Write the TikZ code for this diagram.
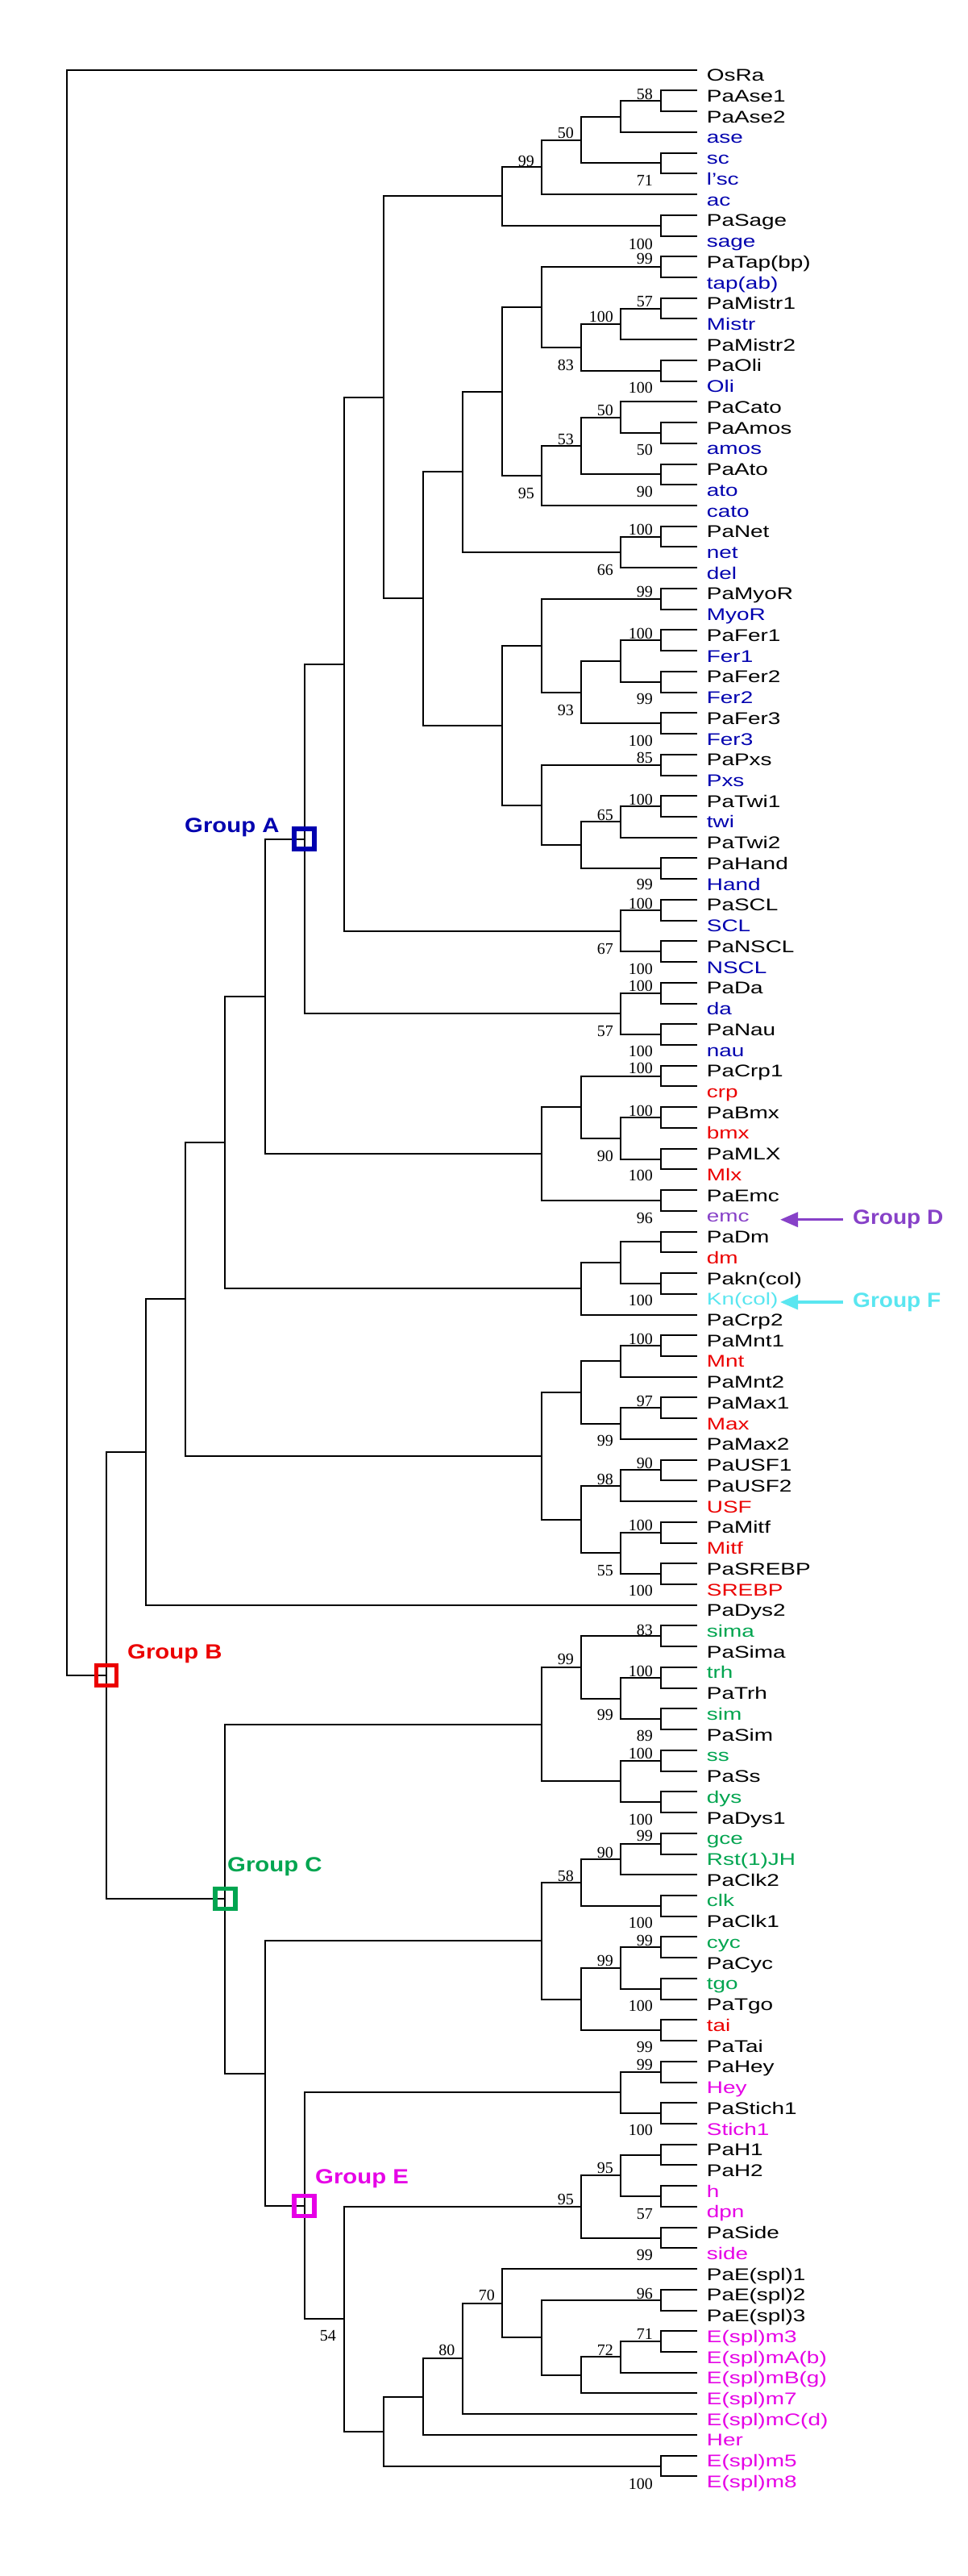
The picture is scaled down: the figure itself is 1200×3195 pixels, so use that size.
\documentclass[tikz,border=0pt]{standalone}
\usepackage{fontspec}
\usepackage{graphicx}
\setmainfont{Liberation Serif}
\newfontfamily\lsans{Liberation Sans}
\usetikzlibrary{calc,arrows.meta}
\definecolor{blueA}{RGB}{0,0,175}
\definecolor{redB}{RGB}{235,0,0}
\definecolor{greenC}{RGB}{0,165,80}
\definecolor{purpD}{RGB}{135,65,200}
\definecolor{cyanF}{RGB}{90,230,240}
\definecolor{magE}{RGB}{230,0,230}
\tikzset{
  br/.style={line width=2pt, line join=miter, black},
  leaf/.style={font=\lsans\fontsize{21}{21}\selectfont, inner sep=0pt, anchor=base west},
  bs/.style={font=\fontsize{20}{20}\selectfont, inner sep=0pt, anchor=east},
  grp/.style={font=\lsans\bfseries\fontsize{25.5}{25.5}\selectfont, inner sep=0pt, anchor=base west},
  gbox/.style={draw, rectangle, line width=5.5pt, minimum size=25pt, inner sep=0pt},
  garrow/.style={line width=3.5pt, -{Triangle[length=22pt,width=18pt]}},
}
\newcommand\wide[1]{\scalebox{1.33}[1]{#1}}
\newcommand\leafnode[3]{%
  \coordinate (t#1) at (15.93,#1);
  \node[leaf, text=#2] (l#1) at ([xshift=11.5pt,yshift=-14pt]t#1) {\wide{#3}};
}
\newcommand\treenode[4]{%
  \path ($(#3)!0.5!(#4)$) coordinate (tmp);
  \coordinate (#1) at (L#2 |- tmp);
  \draw[br] (#1) |- (#3) (#1) |- (#4);
}
\begin{document}
\begin{tikzpicture}[x=1pt,y=-1pt]
\fill[white] (0,0) rectangle (1200,3195);
\useasboundingbox (0,0) rectangle (1200,3195);
\begin{scope}[shift={(83pt,-60.97pt)}, x=49.1pt, y=-25.73pt]
\foreach \k in {0,...,16} \coordinate (L\k) at (\k,0);
\leafnode{1}{black}{OsRa}
\leafnode{2}{black}{PaAse1}
\leafnode{3}{black}{PaAse2}
\leafnode{4}{blueA}{ase}
\leafnode{5}{blueA}{sc}
\leafnode{6}{blueA}{l’sc}
\leafnode{7}{blueA}{ac}
\leafnode{8}{black}{PaSage}
\leafnode{9}{blueA}{sage}
\leafnode{10}{black}{PaTap(bp)}
\leafnode{11}{blueA}{tap(ab)}
\leafnode{12}{black}{PaMistr1}
\leafnode{13}{blueA}{Mistr}
\leafnode{14}{black}{PaMistr2}
\leafnode{15}{black}{PaOli}
\leafnode{16}{blueA}{Oli}
\leafnode{17}{black}{PaCato}
\leafnode{18}{black}{PaAmos}
\leafnode{19}{blueA}{amos}
\leafnode{20}{black}{PaAto}
\leafnode{21}{blueA}{ato}
\leafnode{22}{blueA}{cato}
\leafnode{23}{black}{PaNet}
\leafnode{24}{blueA}{net}
\leafnode{25}{blueA}{del}
\leafnode{26}{black}{PaMyoR}
\leafnode{27}{blueA}{MyoR}
\leafnode{28}{black}{PaFer1}
\leafnode{29}{blueA}{Fer1}
\leafnode{30}{black}{PaFer2}
\leafnode{31}{blueA}{Fer2}
\leafnode{32}{black}{PaFer3}
\leafnode{33}{blueA}{Fer3}
\leafnode{34}{black}{PaPxs}
\leafnode{35}{blueA}{Pxs}
\leafnode{36}{black}{PaTwi1}
\leafnode{37}{blueA}{twi}
\leafnode{38}{black}{PaTwi2}
\leafnode{39}{black}{PaHand}
\leafnode{40}{blueA}{Hand}
\leafnode{41}{black}{PaSCL}
\leafnode{42}{blueA}{SCL}
\leafnode{43}{black}{PaNSCL}
\leafnode{44}{blueA}{NSCL}
\leafnode{45}{black}{PaDa}
\leafnode{46}{blueA}{da}
\leafnode{47}{black}{PaNau}
\leafnode{48}{blueA}{nau}
\leafnode{49}{black}{PaCrp1}
\leafnode{50}{redB}{crp}
\leafnode{51}{black}{PaBmx}
\leafnode{52}{redB}{bmx}
\leafnode{53}{black}{PaMLX}
\leafnode{54}{redB}{Mlx}
\leafnode{55}{black}{PaEmc}
\leafnode{56}{purpD}{emc}
\leafnode{57}{black}{PaDm}
\leafnode{58}{redB}{dm}
\leafnode{59}{black}{Pakn(col)}
\leafnode{60}{cyanF}{Kn(col)}
\leafnode{61}{black}{PaCrp2}
\leafnode{62}{black}{PaMnt1}
\leafnode{63}{redB}{Mnt}
\leafnode{64}{black}{PaMnt2}
\leafnode{65}{black}{PaMax1}
\leafnode{66}{redB}{Max}
\leafnode{67}{black}{PaMax2}
\leafnode{68}{black}{PaUSF1}
\leafnode{69}{black}{PaUSF2}
\leafnode{70}{redB}{USF}
\leafnode{71}{black}{PaMitf}
\leafnode{72}{redB}{Mitf}
\leafnode{73}{black}{PaSREBP}
\leafnode{74}{redB}{SREBP}
\leafnode{75}{black}{PaDys2}
\leafnode{76}{greenC}{sima}
\leafnode{77}{black}{PaSima}
\leafnode{78}{greenC}{trh}
\leafnode{79}{black}{PaTrh}
\leafnode{80}{greenC}{sim}
\leafnode{81}{black}{PaSim}
\leafnode{82}{greenC}{ss}
\leafnode{83}{black}{PaSs}
\leafnode{84}{greenC}{dys}
\leafnode{85}{black}{PaDys1}
\leafnode{86}{greenC}{gce}
\leafnode{87}{greenC}{Rst(1)JH}
\leafnode{88}{black}{PaClk2}
\leafnode{89}{greenC}{clk}
\leafnode{90}{black}{PaClk1}
\leafnode{91}{greenC}{cyc}
\leafnode{92}{black}{PaCyc}
\leafnode{93}{greenC}{tgo}
\leafnode{94}{black}{PaTgo}
\leafnode{95}{redB}{tai}
\leafnode{96}{black}{PaTai}
\leafnode{97}{black}{PaHey}
\leafnode{98}{magE}{Hey}
\leafnode{99}{black}{PaStich1}
\leafnode{100}{magE}{Stich1}
\leafnode{101}{black}{PaH1}
\leafnode{102}{black}{PaH2}
\leafnode{103}{magE}{h}
\leafnode{104}{magE}{dpn}
\leafnode{105}{black}{PaSide}
\leafnode{106}{magE}{side}
\leafnode{107}{black}{PaE(spl)1}
\leafnode{108}{black}{PaE(spl)2}
\leafnode{109}{black}{PaE(spl)3}
\leafnode{110}{magE}{E(spl)m3}
\leafnode{111}{magE}{E(spl)mA(b)}
\leafnode{112}{magE}{E(spl)mB(g)}
\leafnode{113}{magE}{E(spl)m7}
\leafnode{114}{magE}{E(spl)mC(d)}
\leafnode{115}{magE}{Her}
\leafnode{116}{magE}{E(spl)m5}
\leafnode{117}{magE}{E(spl)m8}
% tree
\treenode{a1}{15}{t2}{t3}
\treenode{a2}{14}{a1}{t4}
\treenode{a3}{15}{t5}{t6}
\treenode{a4}{13}{a2}{a3}
\treenode{a5}{12}{a4}{t7}
\treenode{a6}{15}{t8}{t9}
\treenode{a7}{11}{a5}{a6}
\treenode{b1}{15}{t10}{t11}
\treenode{b2}{15}{t12}{t13}
\treenode{b3}{14}{b2}{t14}
\treenode{b4}{15}{t15}{t16}
\treenode{b5}{13}{b3}{b4}
\treenode{b6}{12}{b1}{b5}
\treenode{b7}{15}{t18}{t19}
\treenode{b8}{14}{t17}{b7}
\treenode{b9}{15}{t20}{t21}
\treenode{b10}{13}{b8}{b9}
\treenode{b11}{12}{b10}{t22}
\treenode{b12}{11}{b6}{b11}
\treenode{b13}{15}{t23}{t24}
\treenode{b14}{14}{b13}{t25}
\treenode{b15}{10}{b12}{b14}
\treenode{c1}{15}{t26}{t27}
\treenode{c2}{15}{t28}{t29}
\treenode{c3}{15}{t30}{t31}
\treenode{c4}{14}{c2}{c3}
\treenode{c5}{15}{t32}{t33}
\treenode{c6}{13}{c4}{c5}
\treenode{c7}{12}{c1}{c6}
\treenode{c8}{15}{t34}{t35}
\treenode{c9}{15}{t36}{t37}
\treenode{c10}{14}{c9}{t38}
\treenode{c11}{15}{t39}{t40}
\treenode{c12}{13}{c10}{c11}
\treenode{c13}{12}{c8}{c12}
\treenode{c14}{11}{c7}{c13}
\treenode{c15}{9}{b15}{c14}
\treenode{c16}{8}{a7}{c15}
\treenode{d1}{15}{t41}{t42}
\treenode{d2}{15}{t43}{t44}
\treenode{d3}{14}{d1}{d2}
\treenode{d4}{7}{c16}{d3}
\treenode{d5}{15}{t45}{t46}
\treenode{d6}{15}{t47}{t48}
\treenode{d7}{14}{d5}{d6}
\treenode{gA}{6}{d4}{d7}
\treenode{e1}{15}{t49}{t50}
\treenode{e2}{15}{t51}{t52}
\treenode{e3}{15}{t53}{t54}
\treenode{e4}{14}{e2}{e3}
\treenode{e5}{13}{e1}{e4}
\treenode{e6}{15}{t55}{t56}
\treenode{e7}{12}{e5}{e6}
\treenode{e8}{5}{gA}{e7}
\treenode{f1}{15}{t57}{t58}
\treenode{f2}{15}{t59}{t60}
\treenode{f3}{14}{f1}{f2}
\treenode{f4}{13}{f3}{t61}
\treenode{f5}{4}{e8}{f4}
\treenode{g1}{15}{t62}{t63}
\treenode{g2}{14}{g1}{t64}
\treenode{g3}{15}{t65}{t66}
\treenode{g4}{14}{g3}{t67}
\treenode{g5}{13}{g2}{g4}
\treenode{g6}{15}{t68}{t69}
\treenode{g7}{14}{g6}{t70}
\treenode{g8}{15}{t71}{t72}
\treenode{g9}{15}{t73}{t74}
\treenode{g10}{14}{g8}{g9}
\treenode{g11}{13}{g7}{g10}
\treenode{g12}{12}{g5}{g11}
\treenode{g13}{3}{f5}{g12}
\treenode{g14}{2}{g13}{t75}
\treenode{h1}{15}{t76}{t77}
\treenode{h2}{15}{t78}{t79}
\treenode{h3}{15}{t80}{t81}
\treenode{h4}{14}{h2}{h3}
\treenode{h5}{13}{h1}{h4}
\treenode{h6}{15}{t82}{t83}
\treenode{h7}{15}{t84}{t85}
\treenode{h8}{14}{h6}{h7}
\treenode{h9}{12}{h5}{h8}
\treenode{i1}{15}{t86}{t87}
\treenode{i2}{14}{i1}{t88}
\treenode{i3}{15}{t89}{t90}
\treenode{i4}{13}{i2}{i3}
\treenode{i5}{15}{t91}{t92}
\treenode{i6}{15}{t93}{t94}
\treenode{i7}{14}{i5}{i6}
\treenode{i8}{15}{t95}{t96}
\treenode{i9}{13}{i7}{i8}
\treenode{i10}{12}{i4}{i9}
\treenode{j1}{15}{t97}{t98}
\treenode{j2}{15}{t99}{t100}
\treenode{j3}{14}{j1}{j2}
\treenode{j4}{15}{t101}{t102}
\treenode{j5}{15}{t103}{t104}
\treenode{j6}{14}{j4}{j5}
\treenode{j7}{15}{t105}{t106}
\treenode{j8}{13}{j6}{j7}
\treenode{k1}{15}{t108}{t109}
\treenode{k2}{15}{t110}{t111}
\treenode{k3}{14}{k2}{t112}
\treenode{k4}{13}{k3}{t113}
\treenode{k5}{12}{k1}{k4}
\treenode{k6}{11}{t107}{k5}
\treenode{k7}{10}{k6}{t114}
\treenode{k8}{9}{k7}{t115}
\treenode{k9}{15}{t116}{t117}
\treenode{k10}{8}{k8}{k9}
\treenode{k11}{7}{j8}{k10}
\treenode{gE}{6}{j3}{k11}
\treenode{m1}{5}{i10}{gE}
\treenode{gC}{4}{h9}{m1}
\treenode{gB}{1}{g14}{gC}
\treenode{root}{0}{t1}{gB}
% group boxes
\node[gbox, draw=blueA] (boxA) at (gA) {};
\node[gbox, draw=redB] (boxB) at (gB) {};
\node[gbox, draw=greenC] (boxC) at (gC) {};
\node[gbox, draw=magE] (boxE) at (gE) {};
\end{scope}
% bootstrap values
\node[bs] (bs1) at (810,117.3) {58};
\node[bs] (bs2) at (712,165) {50};
\node[bs] (bs3) at (663,200) {99};
\node[bs] (bs4) at (810,224) {71};
\node[bs] (bs5) at (810,302.7) {100};
\node[bs] (bs6) at (810,321) {99};
\node[bs] (bs7) at (810,374) {57};
\node[bs] (bs8) at (761,392.7) {100};
\node[bs] (bs9) at (712,453.3) {83};
\node[bs] (bs10) at (810,481) {100};
\node[bs] (bs11) at (761,509) {50};
\node[bs] (bs12) at (712,545) {53};
\node[bs] (bs13) at (810,558.3) {50};
\node[bs] (bs14) at (663,611.7) {95};
\node[bs] (bs15) at (810,610) {90};
\node[bs] (bs16) at (810,656.7) {100};
\node[bs] (bs17) at (761,706.7) {66};
\node[bs] (bs18) at (810,734) {99};
\node[bs] (bs19) at (810,786) {100};
\node[bs] (bs20) at (810,866.7) {99};
\node[bs] (bs21) at (712,880.7) {93};
\node[bs] (bs22) at (810,919) {100};
\node[bs] (bs23) at (810,940) {85};
\node[bs] (bs24) at (810,991.7) {100};
\node[bs] (bs25) at (761,1010.7) {65};
\node[bs] (bs26) at (810,1096.7) {99};
\node[bs] (bs27) at (810,1120.7) {100};
\node[bs] (bs28) at (761,1176.7) {67};
\node[bs] (bs29) at (810,1201.7) {100};
\node[bs] (bs30) at (810,1223.3) {100};
\node[bs] (bs31) at (761,1279.3) {57};
\node[bs] (bs32) at (810,1304) {100};
\node[bs] (bs33) at (810,1325) {100};
\node[bs] (bs34) at (810,1378.3) {100};
\node[bs] (bs35) at (761,1434) {90};
\node[bs] (bs36) at (810,1458.3) {100};
\node[bs] (bs37) at (810,1511) {96};
\node[bs] (bs38) at (810,1613.3) {100};
\node[bs] (bs39) at (810,1660.7) {100};
\node[bs] (bs40) at (810,1738.3) {97};
\node[bs] (bs41) at (761,1787.3) {99};
\node[bs] (bs42) at (810,1815) {90};
\node[bs] (bs43) at (761,1835) {98};
\node[bs] (bs44) at (810,1891.7) {100};
\node[bs] (bs45) at (761,1948.3) {55};
\node[bs] (bs46) at (810,1973.3) {100};
\node[bs] (bs47) at (810,2021.7) {83};
\node[bs] (bs48) at (712,2058.3) {99};
\node[bs] (bs49) at (810,2072.7) {100};
\node[bs] (bs50) at (761,2127.3) {99};
\node[bs] (bs51) at (810,2153.3) {89};
\node[bs] (bs52) at (810,2175) {100};
\node[bs] (bs53) at (810,2256.7) {100};
\node[bs] (bs54) at (810,2277.3) {99};
\node[bs] (bs55) at (761,2298.3) {90};
\node[bs] (bs56) at (712,2326.7) {58};
\node[bs] (bs57) at (810,2385) {100};
\node[bs] (bs58) at (810,2406.7) {99};
\node[bs] (bs59) at (761,2431.7) {99};
\node[bs] (bs60) at (810,2488.3) {100};
\node[bs] (bs61) at (810,2539.3) {99};
\node[bs] (bs62) at (810,2561) {99};
\node[bs] (bs63) at (810,2642.3) {100};
\node[bs] (bs64) at (761,2689.3) {95};
\node[bs] (bs65) at (712,2728.3) {95};
\node[bs] (bs66) at (810,2746) {57};
\node[bs] (bs67) at (810,2796.7) {99};
\node[bs] (bs68) at (810,2845) {96};
\node[bs] (bs69) at (614,2847.3) {70};
\node[bs] (bs70) at (810,2895) {71};
\node[bs] (bs71) at (417,2897.3) {54};
\node[bs] (bs72) at (564.5,2915) {80};
\node[bs] (bs73) at (761,2915) {72};
\node[bs] (bs74) at (810,3080.7) {100};
% group labels
\node[grp, text=blueA] (labA) at (229,1032.7) {\scalebox{1.15}[1]{Group A}};
\node[grp, text=redB] (labB) at (158,2057) {\scalebox{1.15}[1]{Group B}};
\node[grp, text=greenC] (labC) at (282,2321) {\scalebox{1.15}[1]{Group C}};
\node[grp, text=magE] (labE) at (391,2708) {\scalebox{1.15}[1]{Group E}};
\node[grp, text=purpD, anchor=west] (labD) at (1058,1512.7) {\scalebox{1.1}[1]{Group D}};
\node[grp, text=cyanF, anchor=west] (labF) at (1058,1615) {\scalebox{1.1}[1]{Group F}};
\coordinate (tipD) at (968,1512.7);
\coordinate (tipF) at (968,1615);
\draw[garrow, purpD] ([xshift=-12pt]labD.west) -- (tipD);
\draw[garrow, cyanF] ([xshift=-12pt]labF.west) -- (tipF);
\end{tikzpicture}
\end{document}
